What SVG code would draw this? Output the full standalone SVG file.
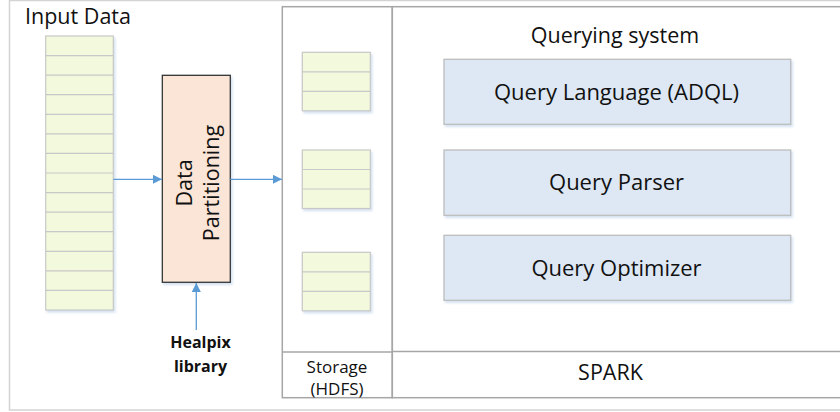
<svg xmlns="http://www.w3.org/2000/svg" width="840" height="412" viewBox="0 0 840 412">
<defs>
<marker id="arr" viewBox="0 0 10 10" refX="10" refY="5" markerWidth="9" markerHeight="9" markerUnits="userSpaceOnUse" orient="auto">
<path d="M0,0 L10,5 L0,10 z" fill="#5B9BD5"/>
</marker>
<filter id="sh" x="-10%" y="-10%" width="130%" height="130%">
<feDropShadow dx="1.5" dy="2" stdDeviation="1.2" flood-color="#b8cde6" flood-opacity="0.6"/>
</filter>
</defs>
<style>
text{font-family:"Open Sans","Liberation Sans",sans-serif;fill:#111}
.t{font-size:21.5px}
.cell{fill:#F2F9DC;stroke:#C8C8C8;stroke-width:1.2}
.q{fill:#DDE8F4;stroke:#BDBDBD;stroke-width:1.3}
.frame{fill:none;stroke:#A6A6A6;stroke-width:1.5}
.con{stroke:#5B9BD5;stroke-width:1.3;fill:none;marker-end:url(#arr)}
</style>
<rect width="840" height="412" fill="#fff"/>
<rect id="outer" x="9.5" y="0.5" width="840" height="409.5" fill="none" stroke="#D4D4D4" stroke-width="1.5"/>
<text class="t" x="25" y="24">Input Data</text>
<g id="input-data" filter="url(#sh)">
<rect class="cell" x="45.7" y="36" width="67.6" height="274"/>
<g stroke="#C8C8C8" stroke-width="1.2">
<line x1="45.7" y1="55.6" x2="113.3" y2="55.6"/><line x1="45.7" y1="75.1" x2="113.3" y2="75.1"/><line x1="45.7" y1="94.7" x2="113.3" y2="94.7"/><line x1="45.7" y1="114.3" x2="113.3" y2="114.3"/><line x1="45.7" y1="133.9" x2="113.3" y2="133.9"/><line x1="45.7" y1="153.4" x2="113.3" y2="153.4"/><line x1="45.7" y1="173" x2="113.3" y2="173"/><line x1="45.7" y1="192.6" x2="113.3" y2="192.6"/><line x1="45.7" y1="212.1" x2="113.3" y2="212.1"/><line x1="45.7" y1="231.7" x2="113.3" y2="231.7"/><line x1="45.7" y1="251.3" x2="113.3" y2="251.3"/><line x1="45.7" y1="270.9" x2="113.3" y2="270.9"/><line x1="45.7" y1="290.4" x2="113.3" y2="290.4"/>
</g>
</g>
<g id="data-partitioning">
<rect x="162.3" y="75.3" width="68" height="207" fill="#FBE5D6" stroke="#333" stroke-width="1.3" filter="url(#sh)"/>
<text class="t" transform="translate(191.5,183) rotate(-90)" text-anchor="middle">Data</text>
<text class="t" transform="translate(219,183) rotate(-90)" text-anchor="middle">Partitioning</text>
</g>
<g id="healpix">
<text x="200.5" y="348" text-anchor="middle" font-size="16" font-weight="bold">Healpix</text>
<text x="200.5" y="371.5" text-anchor="middle" font-size="16" font-weight="bold">library</text>
</g>
<g id="storage">
<rect class="frame" x="282.3" y="6.7" width="110" height="391"/>
<line x1="282.3" y1="352" x2="392.3" y2="352" stroke="#A6A6A6" stroke-width="1.5"/>
<text x="337" y="373" text-anchor="middle" font-size="17">Storage</text>
<text x="337" y="395" text-anchor="middle" font-size="17">(HDFS)</text>
</g>
<g id="storage-blocks" filter="url(#sh)">
<rect class="cell" x="302.3" y="52.3" width="68" height="58.5"/>
<line x1="302.3" y1="71.8" x2="370.3" y2="71.8" stroke="#C8C8C8" stroke-width="1.2"/><line x1="302.3" y1="91.3" x2="370.3" y2="91.3" stroke="#C8C8C8" stroke-width="1.2"/>
<rect class="cell" x="302.3" y="150" width="68" height="58.5"/>
<line x1="302.3" y1="169.5" x2="370.3" y2="169.5" stroke="#C8C8C8" stroke-width="1.2"/><line x1="302.3" y1="189" x2="370.3" y2="189" stroke="#C8C8C8" stroke-width="1.2"/>
<rect class="cell" x="302.3" y="252.3" width="68" height="58.5"/>
<line x1="302.3" y1="271.8" x2="370.3" y2="271.8" stroke="#C8C8C8" stroke-width="1.2"/><line x1="302.3" y1="291.3" x2="370.3" y2="291.3" stroke="#C8C8C8" stroke-width="1.2"/>
</g>
<g id="spark">
<rect class="frame" x="392.3" y="6.7" width="460" height="391"/>
<line x1="392.3" y1="351.5" x2="852" y2="351.5" stroke="#A6A6A6" stroke-width="1.5"/>
<text class="t" x="615" y="43" text-anchor="middle">Querying system</text>
<text class="t" x="610.5" y="380" text-anchor="middle">SPARK</text>
</g>
<g id="query-language">
<rect class="q" x="444" y="59.3" width="346.7" height="65" filter="url(#sh)"/>
<text x="616.5" y="100" text-anchor="middle" font-size="22">Query Language (ADQL)</text>
</g>
<g id="query-parser">
<rect class="q" x="444" y="150" width="346.7" height="65.3" filter="url(#sh)"/>
<text x="616.5" y="190" text-anchor="middle" font-size="22">Query Parser</text>
</g>
<g id="query-optimizer">
<rect class="q" x="444" y="235.3" width="346.7" height="65" filter="url(#sh)"/>
<text x="616.5" y="275.5" text-anchor="middle" font-size="22">Query Optimizer</text>
</g>
<g id="connectors">
<line class="con" x1="113.3" y1="179.3" x2="162" y2="179.3"/>
<line class="con" x1="230.3" y1="179.3" x2="282" y2="179.3"/>
<line class="con" x1="196.3" y1="330" x2="196.3" y2="283"/>
</g>
</svg>
